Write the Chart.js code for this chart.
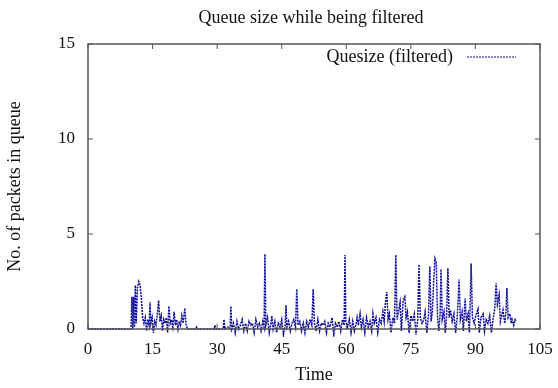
<!DOCTYPE html>
<html>
<head>
<meta charset="utf-8">
<script src="https://cdn.jsdelivr.net/npm/chart.js@4"></script>
<style>
  html, body { margin: 0; padding: 0; background: #fff; }
  #wrap { width: 558px; height: 388px; }
</style>
</head>
<body>
<div id="wrap"><canvas id="queue"></canvas></div>
<script>
const chartTitle = 'Queue size while being filtered';
const seriesLabel = 'Quesize (filtered)';
const xTicks = [0, 15, 30, 45, 60, 75, 90, 105];
const yTicks = [0, 5, 10, 15];

// time stamps and queue length
const times = [
  0, 10.0, 10.2, 10.4, 10.6, 10.8, 11.0, 11.2, 11.5, 11.8, 12.1, 12.4, 12.7, 13.0, 13.3, 13.6, 13.9,
  14.2, 14.4, 14.6, 14.9, 15.2, 15.5, 15.8, 16.1, 16.4, 16.7, 17.0, 17.3, 17.6, 17.9, 18.2, 18.5,
  18.8, 19.1, 19.4, 19.7, 20.0, 20.3, 20.6, 20.9, 21.2, 21.5, 21.8, 22.1, 22.5, 22.8, 23.1,
  25.0, 25.2, 25.4, 29.3, 29.5, 29.7, 31.4, 31.6, 31.8, 32.5, 33.0, 33.2, 33.4,
  33.8, 34.2, 34.6, 35.0, 35.4, 35.8, 36.2, 36.6, 37.0, 37.4, 37.8, 38.2, 38.6, 39.0, 39.4, 39.8,
  40.2, 40.6, 40.9, 41.1, 41.3, 41.7, 42.1, 42.5, 42.7, 43.0, 43.4, 43.8, 44.2, 44.6, 45.0, 45.4,
  45.8, 46.0, 46.2, 46.6, 47.0, 47.4, 47.8, 48.2, 48.5, 48.8, 49.2, 49.6, 50.0, 50.4, 50.8, 51.2,
  51.6, 52.0, 52.3, 52.6, 53.0, 53.4, 53.8, 54.2, 54.6, 55.0, 55.4, 55.8, 56.2, 56.7, 57.1, 57.5,
  57.9, 58.3, 58.7, 59.1, 59.5, 59.7, 59.9, 60.3, 60.7, 61.1, 61.5, 61.9, 62.3, 62.5, 62.8, 63.2,
  63.5, 63.9, 64.3, 64.7, 65.1, 65.5, 65.9, 66.2, 66.5, 66.9, 67.3, 67.7, 68.1, 68.5, 68.8, 69.1,
  69.4, 69.7, 70.0, 70.4, 70.8, 71.2, 71.5, 71.8, 72.1, 72.5, 72.8, 73.2, 73.6, 73.9, 74.2, 74.6,
  75.0, 75.4, 75.8, 76.2, 76.6, 76.9, 77.2, 77.6, 78.0, 78.3, 78.7, 79.1, 79.4, 79.7, 80.0, 80.3,
  80.6, 80.9, 81.2, 81.5, 81.8, 82.0, 82.3, 82.7, 83.0, 83.3, 83.6, 83.9, 84.2, 84.6, 85.0, 85.4,
  85.8, 86.2, 86.5, 86.9, 87.2, 87.6, 87.9, 88.3, 88.6, 89.0, 89.3, 89.7, 90.1, 90.6, 90.9, 91.3,
  91.8, 92.1, 92.5, 92.9, 93.3, 93.7, 94.1, 94.5, 94.8, 95.1, 95.5, 95.8, 96.1, 96.4, 96.8, 97.1,
  97.3, 97.6, 98.0, 98.3, 98.5, 98.9, 99.2, 99.5
];
const queueSize = [
  0, 0, 1.7, 0, 1.7, 0.1, 2.3, 0.3, 2.2, 2.5, 2.3, 1.6, 0.6, 0.3, 0.6, -0.1, 0.5,
  0.2, 1.4, 0.3, 0.6, -0.2, 0.4, 0.2, 0.8, 1.5, 0.4, 0.7, -0.1, 0.5, 0.3, 0.6, -0.2,
  1.2, 0.3, 0.5, 0.1, 0.9, 0.2, 0.5, 0.0, 0.4, 0.2, 0.7, 0.3, 1.1, 0.2, 0,
  0, 0.1, 0, 0, 0.2, 0, 0, 0.5, 0, 0.1, 0, 1.2, 0,
  0.3, -0.2, 0.4, 0, 0.2, 0.5, -0.1, 0.3, -0.1, 0.4, 0.2, 0.3, -0.2, 0.5, 0.1, 0.3,
  -0.1, 0.4, 0.1, 3.95, 0.2, 0.6, -0.2, 0.3, 0.7, 0, 0.4, -0.2, 0.3, 0.1, 0.5, -0.3,
  0.2, 1.25, 0.1, 0.4, -0.1, 0.3, 0.5, 0.1, 2.1, 0.2, 0.4, -0.1, 0.3, -0.2, 0.4, 0.1,
  0.5, 0.2, 2.1, 0.3, -0.1, 0.5, -0.1, 0.3, 0.2, 0.4, -0.2, 0.3, 0.1, 0.6, -0.3, 0.3,
  0.1, 0.4, -0.1, 0.5, 0.2, 3.9, 0.4, 0.1, 0.5, -0.2, 0.4, -0.1, 0.3, 0.6, 0.2, 0.8,
  0.1, 0.5, -0.2, 0.6, 0.1, 0.4, -0.1, 0.8, 0.3, 0.6, -0.2, 0.5, 0.3, 0.9, 0.4, 1.4,
  1.95, 0.5, 0.8, -0.2, 0.6, 0.3, 3.9, 0.5, 0.9, 1.4, -0.1, 1.5, 1.7, 0.6, 0.9, -0.2,
  0.7, 0.4, 0.8, -0.3, 0.5, 3.4, 0.6, 0.3, 0.5, 0.9, -0.2, 0.7, 3.3, 0.4, 0.9, 2.5,
  3.7, 3.5, 0.6, -0.1, 0.8, 3.15, 0.5, 0.9, -0.2, 0.7, 3.2, 0.6, 1.0, 0.4, 0.8, -0.2,
  0.7, 2.6, 0.5, 0.9, -0.1, 1.6, 0.4, 0.8, -0.2, 3.45, 0.6, 0.3, 0.7, 1.05, -0.2, 0.6,
  0.8, -0.1, 0.5, 0.3, 0.7, -0.2, 0.5, 1.1, 2.4, 1.3, 1.8, 0.4, 0.7, 1.0, 0.3, 0.9,
  2.15, 0.6, 0.8, 0.3, 0.5, 0.2, 0.5, 0.4
];

const serif = "'Liberation Serif', 'DejaVu Serif', serif";
const lineColor = '#0a0a96';

// gnuplot-like frame, inward ticks, title and legend
const gnuplotFrame = {
  id: 'gnuplotFrame',
  afterDatasetsDraw(chart) {
    const { ctx, chartArea: a, scales } = chart;
    ctx.save();
    ctx.strokeStyle = '#555';
    ctx.lineWidth = 1.5;
    ctx.strokeRect(a.left, a.top, a.right - a.left, a.bottom - a.top);
    ctx.lineWidth = 1;
    ctx.beginPath();
    xTicks.forEach(v => {
      const px = scales.x.getPixelForValue(v);
      ctx.moveTo(px, a.bottom); ctx.lineTo(px, a.bottom - 5);
      ctx.moveTo(px, a.top); ctx.lineTo(px, a.top + 5);
    });
    yTicks.forEach(v => {
      const py = scales.y.getPixelForValue(v);
      ctx.moveTo(a.left, py); ctx.lineTo(a.left + 5, py);
      ctx.moveTo(a.right, py); ctx.lineTo(a.right - 5, py);
    });
    ctx.stroke();

    ctx.fillStyle = '#111';
    ctx.font = '18px ' + serif;
    ctx.textAlign = 'center';
    ctx.textBaseline = 'middle';
    ctx.fillText(chartTitle, 311, 18);

    ctx.textAlign = 'right';
    ctx.fillText(seriesLabel, 453, 57);
    ctx.strokeStyle = lineColor;
    ctx.setLineDash([2, 1]);
    ctx.beginPath();
    ctx.moveTo(467, 57); ctx.lineTo(516, 57);
    ctx.stroke();
    ctx.restore();
  }
};

new Chart(document.getElementById('queue').getContext('2d'), {
  type: 'line',
  data: {
    datasets: [{
      label: seriesLabel,
      data: times.map((t, i) => ({ x: t, y: queueSize[i] })),
      borderColor: lineColor,
      borderWidth: 1.5,
      borderDash: [2, 1],
      pointRadius: 0,
      fill: false,
      tension: 0,
      clip: 8
    }]
  },
  options: {
    responsive: true,
    maintainAspectRatio: false,
    animation: false,
    layout: { padding: { left: 4, right: 18, top: 44, bottom: 2 } },
    plugins: {
      legend: { display: false },
      title: { display: false },
      tooltip: { enabled: false }
    },
    scales: {
      x: {
        type: 'linear',
        min: 0,
        max: 105,
        afterBuildTicks: s => { s.ticks = xTicks.map(v => ({ value: v })); },
        afterFit: s => { s.height = 57; s.paddingLeft = 0; s.paddingRight = 0; },
        grid: { display: false, drawTicks: false },
        border: { display: false },
        ticks: { color: '#111', font: { family: serif, size: 17 }, padding: 10, maxRotation: 0 },
        title: { display: true, text: 'Time', color: '#111', font: { family: serif, size: 18 }, padding: { top: 0, bottom: 0 } }
      },
      y: {
        min: 0,
        max: 15,
        afterBuildTicks: s => { s.ticks = yTicks.map(v => ({ value: v })); },
        afterFit: s => { s.width = 84; s.paddingTop = 0; s.paddingBottom = 0; },
        grid: { display: false, drawTicks: false },
        border: { display: false },
        ticks: { color: '#111', font: { family: serif, size: 17 }, padding: 13 },
        title: { display: true, text: 'No. of packets in queue', color: '#111', font: { family: serif, size: 18 }, padding: { top: 0, bottom: 0 } }
      }
    }
  },
  plugins: [gnuplotFrame]
});
</script>
</body>
</html>
